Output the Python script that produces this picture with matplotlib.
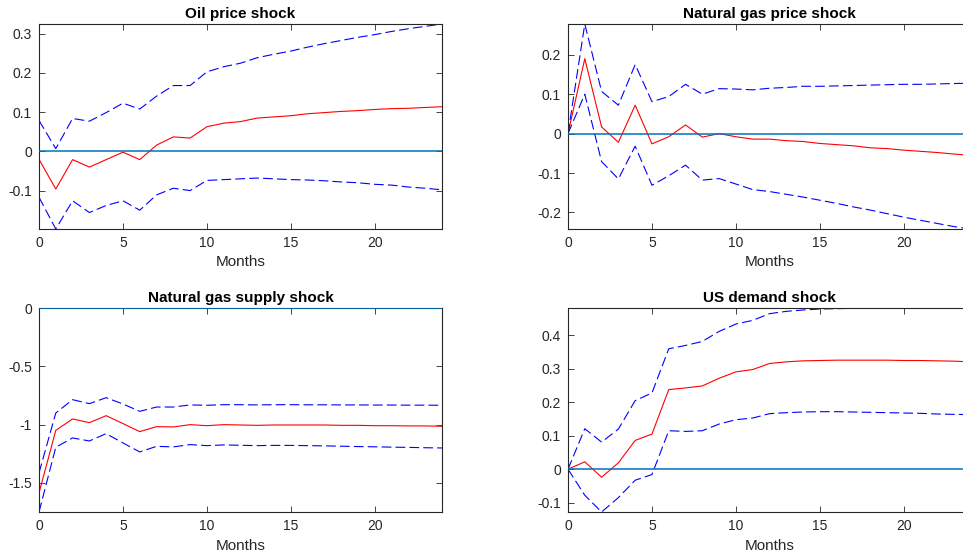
import numpy as np
import matplotlib
matplotlib.use("Agg")
import matplotlib.pyplot as plt

plt.rcParams['font.family'] = ['Liberation Sans', 'DejaVu Sans']
plt.rcParams['lines.scale_dashes'] = False

months = np.arange(25)

# oil price shock
oil_med = [-0.020, -0.096, -0.021, -0.040, -0.021, -0.002, -0.021, 0.016, 0.037, 0.034,
           0.063, 0.072, 0.076, 0.085, 0.088, 0.091, 0.096, 0.099, 0.102, 0.104,
           0.107, 0.109, 0.110, 0.112, 0.114]
oil_up = [0.079, 0.007, 0.084, 0.077, 0.099, 0.123, 0.108, 0.141, 0.168, 0.168,
          0.203, 0.216, 0.225, 0.239, 0.248, 0.256, 0.266, 0.275, 0.283, 0.291,
          0.298, 0.306, 0.313, 0.319, 0.325]
oil_lo = [-0.117, -0.198, -0.126, -0.156, -0.138, -0.126, -0.150, -0.111, -0.094, -0.100,
          -0.074, -0.072, -0.070, -0.068, -0.070, -0.072, -0.073, -0.075, -0.078, -0.080,
          -0.084, -0.086, -0.091, -0.094, -0.098]

# natural gas price shock
ngp_med = [0.0, 0.190, 0.017, -0.022, 0.072, -0.026, -0.008, 0.022, -0.009, 0.0,
           -0.008, -0.014, -0.014, -0.018, -0.020, -0.025, -0.028, -0.031, -0.036, -0.038,
           -0.042, -0.045, -0.048, -0.052, -0.055]
ngp_up = [0.0, 0.278, 0.107, 0.072, 0.175, 0.081, 0.094, 0.125, 0.100, 0.114,
          0.113, 0.111, 0.115, 0.117, 0.120, 0.120, 0.121, 0.122, 0.123, 0.124,
          0.125, 0.125, 0.126, 0.127, 0.128]
ngp_lo = [0.0, 0.100, -0.071, -0.115, -0.032, -0.131, -0.107, -0.080, -0.118, -0.114,
          -0.128, -0.142, -0.147, -0.154, -0.161, -0.169, -0.177, -0.186, -0.194, -0.203,
          -0.212, -0.220, -0.228, -0.236, -0.242]

# natural gas supply shock
ngs_med = [-1.586, -1.049, -0.951, -0.983, -0.923, -0.991, -1.060, -1.017, -1.020, -1.000,
           -1.009, -1.000, -1.003, -1.006, -1.003, -1.003, -1.003, -1.003, -1.006, -1.006,
           -1.009, -1.009, -1.011, -1.011, -1.014]
ngs_up = [-1.414, -0.900, -0.786, -0.820, -0.769, -0.823, -0.886, -0.849, -0.849, -0.831,
          -0.834, -0.829, -0.829, -0.831, -0.829, -0.829, -0.830, -0.830, -0.831, -0.831,
          -0.832, -0.832, -0.833, -0.833, -0.834]
ngs_lo = [-1.749, -1.194, -1.114, -1.140, -1.077, -1.157, -1.234, -1.186, -1.191, -1.171,
          -1.180, -1.174, -1.177, -1.180, -1.178, -1.178, -1.180, -1.182, -1.185, -1.188,
          -1.190, -1.193, -1.195, -1.198, -1.200]

# US demand shock
usd_med = [0.0, 0.022, -0.024, 0.019, 0.086, 0.105, 0.238, 0.243, 0.249, 0.272,
           0.291, 0.298, 0.316, 0.321, 0.324, 0.325, 0.326, 0.326, 0.326, 0.326,
           0.325, 0.325, 0.324, 0.323, 0.321]
usd_up = [0.0, 0.121, 0.081, 0.120, 0.205, 0.228, 0.360, 0.370, 0.382, 0.412,
          0.434, 0.445, 0.465, 0.472, 0.476, 0.479, 0.480, 0.481, 0.482, 0.482,
          0.482, 0.482, 0.482, 0.482, 0.482]
usd_lo = [0.0, -0.078, -0.128, -0.085, -0.033, -0.016, 0.115, 0.113, 0.115, 0.135,
          0.148, 0.153, 0.166, 0.169, 0.171, 0.172, 0.172, 0.171, 0.170, 0.169,
          0.168, 0.167, 0.165, 0.164, 0.163]

titles = ['Oil price shock', 'Natural gas price shock',
          'Natural gas supply shock', 'US demand shock']
series = [(oil_med, oil_up, oil_lo), (ngp_med, ngp_up, ngp_lo),
          (ngs_med, ngs_up, ngs_lo), (usd_med, usd_up, usd_lo)]
yticks = [[-0.1, 0, 0.1, 0.2, 0.3], [-0.2, -0.1, 0, 0.1, 0.2],
          [-1.5, -1, -0.5, 0], [-0.1, 0, 0.1, 0.2, 0.3, 0.4]]

W, H = 963, 560
fig = plt.figure(figsize=(W / 100, H / 100), dpi=100)

# axes boxes in pixels: left, top, right, bottom (right column runs off the page)
boxes = [(39, 24, 442, 229), (568, 24, 971, 229),
         (39, 308, 442, 512), (568, 308, 971, 512)]

axcol = '#262626'
for (x0, y0, x1, y1), title, (med, up, lo), yt in zip(boxes, titles, series, yticks):
    ax = fig.add_axes([x0 / W, 1 - y1 / H, (x1 - x0) / W, (y1 - y0) / H])
    ax.plot(months, med, color='red', lw=0.8)
    ax.plot(months, up, color='blue', lw=0.8, linestyle=(0, (7, 3)))
    ax.plot(months, lo, color='blue', lw=0.8, linestyle=(0, (7, 3)))
    # zero line sits above the box so it also shows when it is the top edge
    ax.plot(months, np.zeros(len(months)), color='#0072BD', lw=1.1, zorder=3)
    ax.set_xlim(0, 24)
    ax.set_ylim(min(lo), max(max(up), 0))
    ax.set_xticks([0, 5, 10, 15, 20])
    ax.set_yticks(yt)
    ax.set_yticklabels([('%g' % v) for v in yt])
    ax.tick_params(direction='in', top=True, right=True, length=4, width=0.6,
                   labelsize=10, colors=axcol, pad=5)
    for s in ax.spines.values():
        s.set_color(axcol)
        s.set_linewidth(0.8)
    ax.set_title(title, fontsize=11, fontweight='bold', pad=4)
    ax.set_xlabel('Months', fontsize=11, color=axcol, labelpad=4)

fig.savefig('out.png', dpi=100)
